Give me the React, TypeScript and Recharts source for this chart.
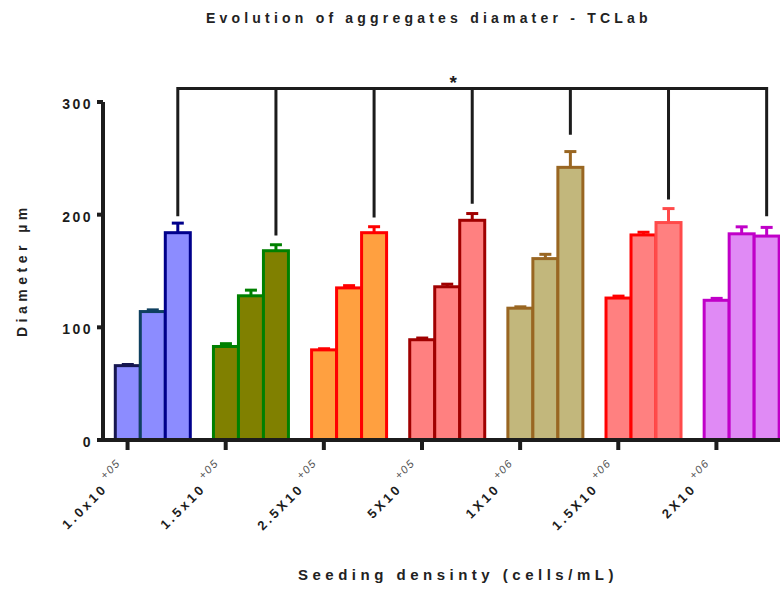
import { BarChart, Bar, XAxis, YAxis } from 'recharts';

// seeding densities (mantissa + exponent shown as superscript)
const densities = ['1.0x10', '1.5x10', '2.5X10', '5X10', '1X10', '1.5X10', '2X10'];
const exponents = ['+05', '+05', '+05', '+05', '+06', '+06', '+06'];

// mean aggregate diameter (µm) at the three time points
const tp1 = [66, 83, 80, 89, 117, 126, 124];
const tp2 = [114, 128, 135, 136, 161, 182, 183];
const tp3 = [184, 168, 184, 195, 242, 193, 181];

// upper error (SEM)
const err1 = [1, 2.5, 1, 1.5, 1.2, 1.7, 1.7];
const err2 = [1.5, 5, 2, 2.3, 3.8, 2.4, 6.2];
const err3 = [8.5, 5.3, 5.3, 6, 14, 12.4, 7.7];

// significance bracket: crossbar level and where each drop stops
const bracketTop = 312;
const bracketEnds = [198.6, 181.5, 197.4, 209.8, 271, 213.4, 198.6];

const yTicks = [0, 100, 200, 300];

const fills = ['#8C8CFF', '#808000', '#FFA040', '#FF8080', '#C2B77C', '#FF8080', '#E08AF5'];
const strokes1 = ['#161650', '#008000', '#FF0000', '#A00000', '#996622', '#FF0000', '#C000C8'];
const strokes2 = ['#0F4060', '#008000', '#FF0000', '#A00000', '#996622', '#FF0000', '#C000C8'];
const strokes3 = ['#00008B', '#008000', '#FF0000', '#A00000', '#996622', '#FF4A4A', '#C000C8'];

const data = densities.map((d, i) => ({
  density: d,
  tp1: tp1[i],
  tp2: tp2[i],
  tp3: tp3[i],
  err1: err1[i],
  err2: err2[i],
  err3: err3[i],
}));

const FONT = '"Liberation Sans", Arial, Helvetica, sans-serif';
const INK = '#1c1c1c';
const CHART_W = 800;
const CHART_H = 589;
const PLOT_LEFT = 103;
const PLOT_RIGHT = 790;
const CAT_GAP = 12.3;
const STEP = (PLOT_RIGHT - PLOT_LEFT) / densities.length;
const BAR_W = (STEP - 2 * CAT_GAP) / 3;

function makeShape(strokes: string[], valKey: string, errKey: string, bracket = false) {
  return (props: any) => {
    const { x, y, width, height, index, payload } = props;
    const value = payload[valKey];
    const k = height / value;
    const base = y + height;
    const cx = x + width / 2;
    const capY = base - (value + payload[errKey]) * k;
    const color = strokes[index];
    const topY = base - bracketTop * k;
    const endY = base - bracketEnds[index] * k;
    return (
      <g>
        <rect x={x} y={y} width={width} height={height} fill={fills[index]} stroke={color} strokeWidth={3} />
        <line x1={cx} y1={y} x2={cx} y2={capY} stroke={color} strokeWidth={3} />
        <line x1={cx - 6} y1={capY} x2={cx + 6} y2={capY} stroke={color} strokeWidth={3} />
        {bracket && (
          <path
            d={index === 0 ? `M${cx},${endY}V${topY}H${cx + STEP}` : `M${cx - STEP},${topY}H${cx}V${endY}`}
            fill="none"
            stroke={INK}
            strokeWidth={3}
          />
        )}
        {bracket && index === 3 && (
          <text x={cx - 19} y={topY + 1} textAnchor="middle" fontFamily={FONT} fontWeight={700} fontSize={19} fill={INK}>
            *
          </text>
        )}
      </g>
    );
  };
}

function DensityTick(props: any) {
  const { x, y, payload, index } = props;
  const tx = x - BAR_W;
  const ax = tx;
  const ay = y + 30;
  return (
    <g>
      <line x1={tx} y1={y} x2={tx} y2={y + 10} stroke={INK} strokeWidth={4} />
      <text
        x={ax}
        y={ay}
        transform={`rotate(-45 ${ax} ${ay})`}
        textAnchor="end"
        fontFamily={FONT}
        fill={INK}
      >
        <tspan fontSize={13} fontWeight={700} letterSpacing={3}>{payload.value}</tspan>
        <tspan dx={4} dy={-9} fontSize={11} fontStyle="italic" fontWeight={400} fill="#555" letterSpacing={1.5}>
          {exponents[index]}
        </tspan>
      </text>
    </g>
  );
}

function ValueTick(props: any) {
  const { x, y, payload } = props;
  return (
    <text x={x} y={y + 7} textAnchor="end" fontFamily={FONT} fontWeight={700} fontSize={14} letterSpacing={2.5} fill={INK}>
      {payload.value}
    </text>
  );
}

export default function App() {
  return (
    <div
      style={{
        position: 'fixed',
        left: 0,
        top: 0,
        width: 780,
        height: 589,
        overflow: 'hidden',
        background: '#fff',
      }}
    >
      <BarChart
        width={CHART_W}
        height={CHART_H}
        data={data}
        margin={{ top: 102, right: CHART_W - PLOT_RIGHT, bottom: 0, left: 0 }}
        barCategoryGap={CAT_GAP}
        barGap={0}
      >
        <XAxis
          dataKey="density"
          height={CHART_H - 440}
          interval={0}
          tickLine={false}
          tickSize={0}
          tickMargin={0}
          axisLine={{ stroke: INK, strokeWidth: 4 }}
          tick={<DensityTick />}
        />
        <YAxis
          width={PLOT_LEFT}
          domain={[0, 300]}
          ticks={yTicks}
          tickSize={6}
          tickMargin={4}
          tickLine={{ stroke: INK, strokeWidth: 4 }}
          axisLine={{ stroke: INK, strokeWidth: 4 }}
          tick={<ValueTick />}
        />
        <Bar dataKey="tp1" isAnimationActive={false} shape={makeShape(strokes1, 'tp1', 'err1')} />
        <Bar dataKey="tp2" isAnimationActive={false} shape={makeShape(strokes2, 'tp2', 'err2')} />
        <Bar dataKey="tp3" isAnimationActive={false} shape={makeShape(strokes3, 'tp3', 'err3', true)} />
      </BarChart>
      <svg width={780} height={589} style={{ position: 'absolute', left: 0, top: 0, pointerEvents: 'none' }}>
        <text x={206} y={23} fontFamily={FONT} fontWeight={700} fontSize={14} letterSpacing={4.2} fill="#222">
          Evolution of aggregates diamater - TCLab
        </text>
        <text
          transform="translate(27 337) rotate(-90)"
          fontFamily={FONT}
          fontWeight={700}
          fontSize={14}
          letterSpacing={4.5}
          fill="#222"
        >
          Diameter µm
        </text>
        <text x={298} y={580} fontFamily={FONT} fontWeight={700} fontSize={15} letterSpacing={4.5} fill="#222">
          Seeding densinty (cells/mL)
        </text>
      </svg>
    </div>
  );
}
